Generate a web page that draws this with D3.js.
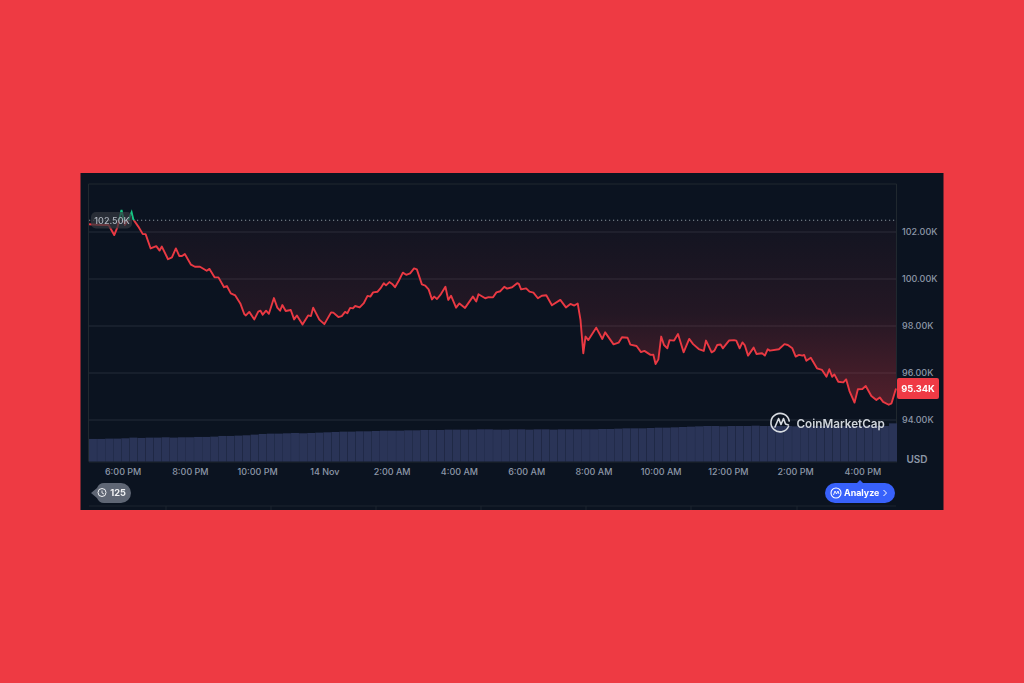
<!DOCTYPE html>
<html><head><meta charset="utf-8">
<script src="https://cdn.jsdelivr.net/npm/d3@7"></script>
<style>html,body{margin:0;padding:0;background:#ee3a43;overflow:hidden}svg{display:block}text{font-family:Inter,"Noto Sans",sans-serif}</style>
</head><body><svg id="c" width="1024" height="683"></svg>
<script>
// minutes after 5:00 PM 13 Nov
const minutes=[0,20,35,45,51,58,64,70,76,79,88,96,101,110,120,126,130,141,148,155,161,166,171,182,189,198,210,215,224,231,241,246,253,261,270,277,280,286,295,302,306,310,316,321,330,336,341,345,351,360,366,371,381,391,396,400,411,420,432,436,445,451,457,461,466,471,475,483,490,497,502,507,515,520,526,530,536,541,546,552,560,566,573,580,585,594,600,606,612,616,621,628,636,641,646,655,661,671,685,691,695,707,713,721,727,734,741,746,755,764,767,771,780,786,793,801,808,816,826,841,851,859,866,872,877,882,886,891,905,916,921,936,945,951,961,966,977,985,991,1002,1007,1011,1016,1021,1026,1032,1036,1044,1051,1061,1071,1078,1088,1097,1101,1111,1116,1121,1127,1131,1142,1151,1155,1161,1166,1170,1176,1186,1191,1201,1206,1211,1215,1231,1241,1247,1255,1261,1267,1273,1276,1280,1288,1299,1308,1316,1321,1326,1330,1337,1346,1351,1357,1366,1372,1380,1386,1396,1405,1411,1417,1427,1432,1440];
// BTC price, thousands USD
const prices=[102.33,102.30,102.30,101.87,102.22,102.94,102.30,102.51,102.84,102.54,102.23,101.91,101.91,101.30,101.40,101.21,101.38,100.84,100.92,101.30,100.98,100.98,101.06,100.61,100.52,100.52,100.35,100.43,100.07,100.07,99.65,99.70,99.39,99.30,98.96,98.51,98.45,98.60,98.28,98.61,98.65,98.48,98.65,98.52,99.19,98.78,98.65,98.89,98.64,98.68,98.28,98.45,98.06,98.45,98.42,98.78,98.27,98.08,98.58,98.57,98.38,98.42,98.60,98.54,98.77,98.75,98.85,98.79,98.96,99.28,99.25,99.43,99.46,99.60,99.82,99.73,99.87,99.79,99.65,99.89,100.27,100.18,100.24,100.45,100.41,99.77,99.72,99.56,99.13,99.25,99.15,99.36,99.67,99.11,99.29,98.78,98.96,98.77,99.25,99.04,99.35,99.18,99.23,99.22,99.43,99.48,99.67,99.59,99.65,99.82,99.79,99.56,99.60,99.46,99.42,99.18,99.29,99.31,98.88,99.11,98.79,98.94,98.87,98.96,98.26,96.84,97.55,97.40,97.93,97.45,97.73,97.22,97.29,97.52,97.50,97.21,97.15,96.89,96.94,96.77,96.78,96.38,96.58,97.55,97.19,97.05,97.40,97.38,97.66,96.88,97.45,97.23,97.02,96.94,97.38,96.88,96.95,97.19,97.21,97.05,97.38,97.40,97.38,97.05,97.30,97.19,96.74,97.08,96.81,96.84,96.74,97.01,96.95,97.01,97.23,97.19,97.05,96.70,96.77,96.74,96.77,96.52,96.65,96.20,96.13,95.84,96.16,95.84,95.94,95.63,95.60,95.73,95.23,94.74,95.31,95.32,95.45,95.02,94.85,94.96,94.77,94.65,94.71,95.34];
// traded volume, billions USD
const volumes=[68,68,69,69,70,72,71,72,72,73,72,73,73,74,74,75,77,77,78,79,81,83,84,84,85,86,85,86,87,88,89,90,90,91,91,92,93,93,93,94,94,95,95,95,96,96,96,96,97,97,96,96,97,97,96,97,97,96,97,97,97,97,97,98,98,99,100,100,100,101,102,102,103,104,105,106,107,107,106,107,107,107,108,107,107,107,107,106,107,107,107,108,107,107,107,107,108,107,107,115];
const priceTicks=[94,96,98,100,102];
const baseline=102.5, lastPrice=95.34;
const timeTicks=[[1,"6:00 PM"],[3,"8:00 PM"],[5,"10:00 PM"],[7,"14 Nov"],[9,"2:00 AM"],[11,"4:00 AM"],[13,"6:00 AM"],[15,"8:00 AM"],[17,"10:00 AM"],[19,"12:00 PM"],[21,"2:00 PM"],[23,"4:00 PM"]];
const navTicks=[166,271,376,481,586,691,797];

const svg=d3.select("#c");
const start=new Date(2024,10,13,17,0);
const T=m=>new Date(+start+m*60000);
const L=89,R=896,TOP=184,BOT=461.5;
const x=d3.scaleTime().domain([T(0),T(1440)]).range([L,R]);
const y=d3.scaleLinear().domain([94,102]).range([420,232]);
const vy=d3.scaleLinear().domain([0,110]).range([BOT,425]);
const band=d3.scaleBand().domain(volumes.map((_,i)=>i)).range([L,R+1]).paddingInner(.015);
const pts=minutes.map((m,i)=>({t:T(m),v:prices[i]}));

const defs=svg.append("defs");
const g=defs.append("linearGradient").attr("id","fade").attr("gradientUnits","userSpaceOnUse").attr("x1",0).attr("x2",0).attr("y1",y(baseline)).attr("y2",y(94.6));
g.append("stop").attr("offset",0).attr("stop-color","#ea3943").attr("stop-opacity",.03);
g.append("stop").attr("offset",.5).attr("stop-color","#ea3943").attr("stop-opacity",.11);
g.append("stop").attr("offset",1).attr("stop-color","#ea3943").attr("stop-opacity",.32);
defs.append("clipPath").attr("id","below").append("rect").attr("x",L).attr("width",R-L+1).attr("y",y(baseline)).attr("height",300);
defs.append("clipPath").attr("id","above").append("rect").attr("x",L).attr("width",R-L+1).attr("y",TOP).attr("height",y(baseline)-TOP);

svg.append("rect").attr("width",1024).attr("height",683).attr("fill","#ee3a43");
const root=svg.append("g").style("filter","blur(0.4px)");
root.append("rect").attr("x",80.5).attr("y",173).attr("width",863).attr("height",337).attr("fill","#0b1320");

// frame + grid
const gridC="#20282f";
root.append("path").attr("d",`M${L-.5},${BOT}V${TOP}H${R+.5}V${BOT}`).attr("fill","none").attr("stroke",gridC);
root.append("line").attr("x1",L).attr("x2",R+1).attr("y1",BOT+.5).attr("y2",BOT+.5).attr("stroke",gridC);
root.selectAll(".grid").data(priceTicks).join("line").attr("x1",L).attr("x2",R).attr("y1",d=>y(d)).attr("y2",d=>y(d)).attr("stroke","#252d38");

// area
root.append("path").datum(pts).attr("clip-path","url(#below)").attr("fill","url(#fade)")
 .attr("d",d3.area().x(d=>x(d.t)).y0(y(baseline)).y1(d=>y(d.v)));

// volume
root.selectAll(".vol").data(volumes).join("rect").attr("x",(d,i)=>band(i)).attr("width",band.bandwidth()).attr("y",d=>vy(d)).attr("height",d=>BOT-vy(d)).attr("fill","#2a3457");

// baseline
root.append("line").attr("x1",L).attr("x2",R).attr("y1",y(baseline)).attr("y2",y(baseline)).attr("stroke","#8b929c").attr("stroke-dasharray","1.2 2.8");

// price line
const ln=d3.line().x(d=>x(d.t)).y(d=>y(d.v));
root.append("path").datum(pts).attr("clip-path","url(#below)").attr("fill","none").attr("stroke","#ea3943").attr("stroke-width",1.9).attr("stroke-linejoin","round").attr("d",ln);
root.append("path").datum(pts).attr("clip-path","url(#above)").attr("fill","none").attr("stroke","#16c784").attr("stroke-width",1.9).attr("d",ln);

// y axis
const ya=d3.axisRight(y).tickValues(priceTicks).tickSize(0).tickPadding(0).tickFormat(d=>d.toFixed(2)+"K");
const yg=root.append("g").attr("transform",`translate(902,-0.7)`).call(ya);
yg.select(".domain").remove();
yg.selectAll("text").attr("font-size",9).attr("font-weight",500).attr("fill","#8d97a8").attr("dy","0.34em");
root.append("text").attr("x",917).attr("y",463).attr("text-anchor","middle").attr("font-size",10).attr("font-weight",600).attr("fill","#8d97a8").text("USD");

// x axis
const tickMap=new Map(timeTicks.map(([h,s])=>[+T(h*60),s]));
const xa=d3.axisBottom(x).tickValues(timeTicks.map(d=>T(d[0]*60))).tickSize(0).tickPadding(0).tickFormat(d=>tickMap.get(+d));
const xg=root.append("g").attr("transform",`translate(0,470)`).call(xa);
xg.select(".domain").remove();
xg.selectAll("text").attr("font-size",9).attr("font-weight",500).attr("fill","#8d97a8").attr("dy","0.55em");

// baseline label
root.append("rect").attr("x",91).attr("y",212).attr("width",41).attr("height",16.5).attr("rx",5).attr("fill","#33373f").attr("fill-opacity",.72);
root.append("text").attr("x",112).attr("y",220.5).attr("dy","0.35em").attr("text-anchor","middle").attr("font-size",9).attr("font-weight",500).attr("fill","#b0b5bf").text(baseline.toFixed(2)+"K");

// last price tag
root.append("rect").attr("x",897).attr("y",y(lastPrice)-10.5).attr("width",42).attr("height",21).attr("rx",2).attr("fill","#ef3a45");
root.append("text").attr("x",918).attr("y",y(lastPrice)).attr("dy","0.35em").attr("text-anchor","middle").attr("font-size",9.3).attr("font-weight",700).attr("fill","#fff").text(lastPrice.toFixed(2)+"K");

// watermark
const wm=root.append("g").attr("fill","none").attr("stroke","#d6dae0").attr("stroke-width",1.6).attr("stroke-linecap","round").attr("stroke-linejoin","round");
wm.append("path").attr("d","M788.5,426.5 A9.2,9.2 0 1 1 789.2,421");
wm.append("path").attr("d","M775,427 L778.6,418.5 L781,424.5 L783.5,418.5 L785.5,424 L788.5,425");
root.append("text").attr("x",796.5).attr("y",427.5).attr("font-size",11.7).attr("font-weight",600).attr("fill","#cfd4da").text("CoinMarketCap");

// history pill
root.append("path").attr("d","M91,493 L97,488 Q99,483 104,483 H121 A10,10 0 0 1 121,503 H104 Q99,503 97,498 Z").attr("fill","#5f6674");
root.append("circle").attr("cx",102).attr("cy",492.5).attr("r",4).attr("fill","none").attr("stroke","#f0f1f3").attr("stroke-width",1);
root.append("path").attr("d","M102,490.5V493L104,494").attr("fill","none").attr("stroke","#f0f1f3").attr("stroke-width",.9);
root.append("text").attr("x",118).attr("y",493).attr("dy","0.35em").attr("text-anchor","middle").attr("font-size",9.2).attr("font-weight",700).attr("fill","#f0f1f3").text("125");

// analyze pill
root.append("path").attr("d","M857,483 L860,480 L863,483 Z").attr("fill","#3861fb");
root.append("rect").attr("x",825).attr("y",483).attr("width",70).attr("height",20).attr("rx",10).attr("fill","#3861fb");
root.append("circle").attr("cx",836).attr("cy",493).attr("r",5).attr("fill","none").attr("stroke","#fff").attr("stroke-width",1.1);
root.append("path").attr("d","M833.5,495 L835,491 L836.5,494 L838,491 L839,494").attr("fill","none").attr("stroke","#fff").attr("stroke-width",.9);
root.append("text").attr("x",844).attr("y",493).attr("dy","0.35em").attr("font-size",8.9).attr("font-weight",700).attr("fill","#fff").text("Analyze");
root.append("path").attr("d","M883.5,490 L886.5,493 L883.5,496").attr("fill","none").attr("stroke","#fff").attr("stroke-width",1);

// navigator
root.append("line").attr("x1",L).attr("x2",R).attr("y1",506).attr("y2",506).attr("stroke","#1c242e");
root.selectAll(".nav").data(navTicks).join("line").attr("x1",d=>d).attr("x2",d=>d).attr("y1",506).attr("y2",510).attr("stroke","#1c242e");
</script></body></html>
